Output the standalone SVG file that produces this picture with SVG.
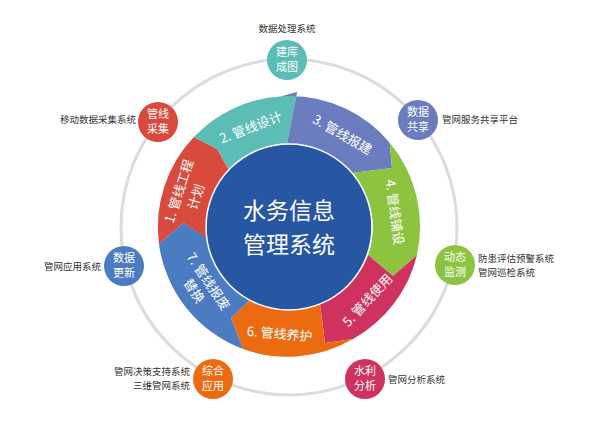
<svg xmlns="http://www.w3.org/2000/svg" width="600" height="427" viewBox="0 0 600 427">
<style>
text{font-family:"Noto Sans CJK SC","Liberation Sans",sans-serif}
.lb{font-size:9.5px;fill:#333}
.nt{font-size:11px;fill:#fff;text-anchor:middle}
.st{font-size:13px;fill:#fff;text-anchor:middle}
.seg{stroke:none}
</style>
<rect width="600" height="427" fill="#fff"/>
<circle cx="289" cy="227" r="168" fill="none" stroke="#dcdcdc" stroke-width="3"/>
<g id="connectors"></g>
<g id="ring">
<g id="s1"><path class="seg" fill="#d84b3c" d="M 158.9 243.7 A 131 131 0 0 1 193.8 137.1 L 217.2 149.1 L 229.1 170.4 A 83 83 0 0 0 207.0 238.6 L 183.5 223.0 Z"/>
<g transform="translate(289,227) rotate(-72)"><text class="st" x="0" y="-111">1. 管线工程</text><text class="st" x="0" y="-93">计划</text></g></g>
<g id="s2"><path class="seg" fill="#5cbdb6" d="M 193.8 137.1 A 131 131 0 0 1 281.9 96.2 L 297 92 L 287 144 A 83 83 0 0 0 229.1 170.4 L 217.2 149.1 Z"/>
<g transform="translate(289,227) rotate(-21)"><text class="st" x="0" y="-102">2. 管线设计</text></g></g>
<g id="s3"><path class="seg" fill="#6b7dbf" d="M 297 92 L 281.9 96.2 L 290 96 A 131 131 0 0 1 389.7 142.7 L 392 168 L 352 173 A 83 83 0 0 0 287 144 Z"/>
<g transform="translate(289,227) rotate(30)"><text class="st" x="0" y="-102">3. 管线报建</text></g></g>
<g id="s4"><path class="seg" fill="#8dc43f" d="M 389.7 142.7 A 131 131 0 0 1 416.9 255.2 L 393 276 L 368 255 A 83 83 0 0 0 352 173 L 392 168 Z"/>
<g transform="translate(289,227) rotate(82)"><text class="st" x="0" y="-102">4. 管线铺设</text></g></g>
<g id="s5"><path class="seg" fill="#cf325f" d="M 416.9 255.2 A 131 131 0 0 1 353 339 L 325 343 L 320 304 A 83 83 0 0 0 368 255 L 393 276 Z"/>
<g transform="translate(289,227) rotate(-47)"><text class="st" x="0" y="112">5. 管线使用</text></g></g>
<g id="s6"><path class="seg" fill="#ec6a10" d="M 353 339 A 131 131 0 0 1 243 349 L 231 318 L 250 300 A 83 83 0 0 0 320 304 L 325 343 Z"/>
<g transform="translate(289,227) rotate(5)"><text class="st" x="0" y="112">6. 管线养护</text></g></g>
<g id="s7"><path class="seg" fill="#4b7cc2" d="M 243 349 A 131 131 0 0 1 158.9 243.7 L 183.5 223.0 L 207 238 A 83 83 0 0 0 250 300 L 231 318 Z"/>
<g transform="translate(289,227) rotate(56)"><text class="st" x="0" y="102">7. 管线报废</text><text class="st" x="0" y="119">替换</text></g></g>
</g>
<g id="center"><circle cx="289" cy="227" r="83" fill="#2756a3" stroke="#fff" stroke-width="1.5"/>
<text x="289" y="219" font-size="23" fill="#fff" text-anchor="middle">水务信息</text>
<text x="289" y="253" font-size="23" fill="#fff" text-anchor="middle">管理系统</text></g>
<g id="n1"><circle cx="287" cy="60" r="20" fill="#5cbdb6"/><text class="nt" x="287" y="56">建库</text><text class="nt" x="287" y="71">成图</text><text class="lb" x="287" y="32" text-anchor="middle">数据处理系统</text></g>
<g id="n2"><circle cx="158" cy="122" r="20" fill="#d84b3c"/><text class="nt" x="158" y="118">管线</text><text class="nt" x="158" y="133">采集</text><text class="lb" x="136" y="123" text-anchor="end">移动数据采集系统</text></g>
<g id="n3"><circle cx="418" cy="120" r="20" fill="#6b7dbf"/><text class="nt" x="418" y="116">数据</text><text class="nt" x="418" y="131">共享</text><text class="lb" x="442" y="123">管网服务共享平台</text></g>
<g id="n4"><circle cx="455" cy="265" r="20" fill="#8dc43f"/><text class="nt" x="455" y="261">动态</text><text class="nt" x="455" y="276">监测</text><text class="lb" x="478" y="262">防患评估预警系统</text><text class="lb" x="478" y="276">管网巡检系统</text></g>
<g id="n5"><circle cx="365" cy="379" r="20" fill="#cf325f"/><text class="nt" x="365" y="375">水利</text><text class="nt" x="365" y="390">分析</text><text class="lb" x="388" y="383">管网分析系统</text></g>
<g id="n6"><circle cx="213" cy="379" r="20" fill="#ec6a10"/><text class="nt" x="213" y="375">综合</text><text class="nt" x="213" y="390">应用</text><text class="lb" x="190" y="375" text-anchor="end">管网决策支持系统</text><text class="lb" x="190" y="389" text-anchor="end">三维管网系统</text></g>
<g id="n7"><circle cx="124" cy="266" r="20" fill="#4b7cc2"/><text class="nt" x="124" y="262">数据</text><text class="nt" x="124" y="277">更新</text><text class="lb" x="101" y="270" text-anchor="end">管网应用系统</text></g>
</svg>
